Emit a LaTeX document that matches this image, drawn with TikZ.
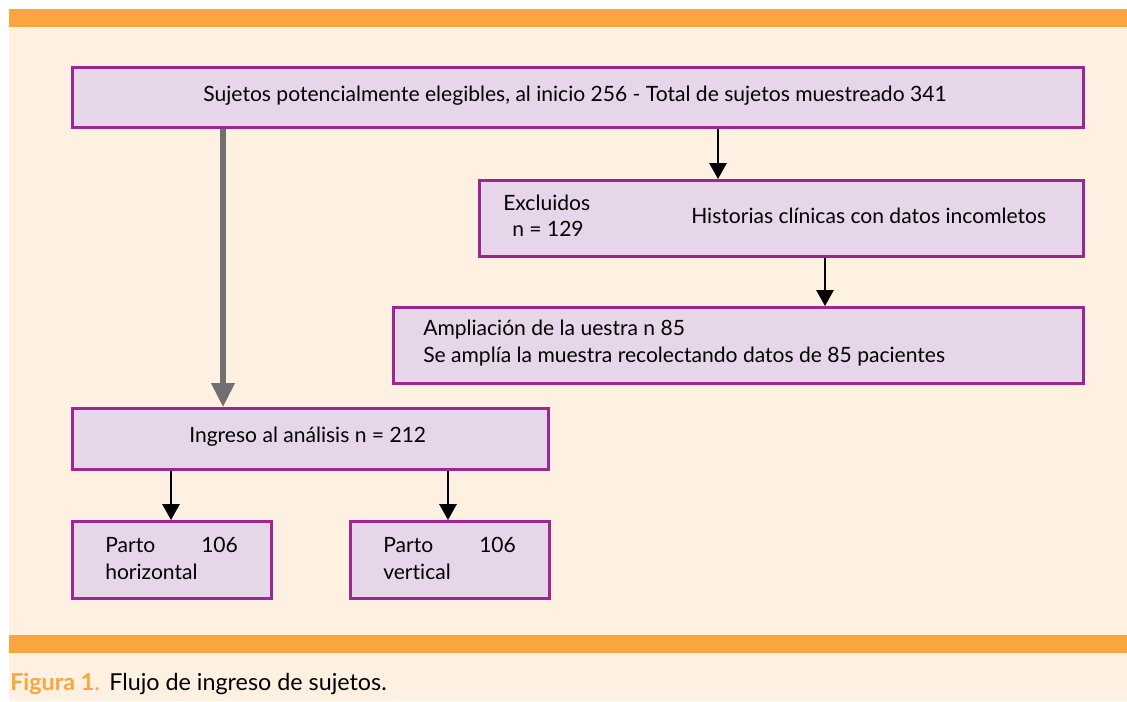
\documentclass[tikz,border=0pt]{standalone}
\usepackage{fontspec}
\setmainfont{Lato}[Ligatures=CommonOff]
\usetikzlibrary{arrows.meta}
\definecolor{bar}{HTML}{F9A63F}
\definecolor{cream}{HTML}{FEF1E1}
\definecolor{boxfill}{HTML}{E7D5EA}
\definecolor{boxline}{HTML}{9C2790}
\definecolor{grayarrow}{HTML}{707070}
\tikzset{
  fbox/.style={draw=boxline, fill=boxfill, line width=2.25pt, anchor=north west, inner sep=0pt},
  txt/.style={inner sep=0pt, font=\fontsize{15.8}{20}\selectfont, text=black},
  txtw/.style={txt, anchor=west},
  blackarrow/.style={line width=1.5pt, -{Triangle[width=13pt,length=12pt]}},
  grayarr/.style={draw=grayarrow, line width=3.8pt, -{Triangle[width=17pt,length=18pt]}},
}
\begin{document}
\begin{tikzpicture}[x=0.75pt,y=-0.75pt]
\useasboundingbox (0,0) rectangle (1127,701);
\fill[white] (0,0) rectangle (1127,701);
\fill[cream] (9,9) rectangle (1127,701);
\fill[bar] (9,9) rectangle (1127,27);
\fill[bar] (9,635) rectangle (1127,653);

\node[fbox, minimum width=758.25pt, minimum height=45pt] (b1) at (71,66) {};
\node[fbox, minimum width=453pt, minimum height=57pt] (b2) at (478,179) {};
\node[fbox, minimum width=517.5pt, minimum height=57pt] (b3) at (392,306) {};
\node[fbox, minimum width=357pt, minimum height=45.75pt] (b4) at (71,407) {};
\node[fbox, minimum width=149.25pt, minimum height=57.75pt] (b5) at (71,520) {};
\node[fbox, minimum width=149.25pt, minimum height=57.75pt] (b6) at (349,520) {};

\node[txt] (t1) at (575,96) {Sujetos potencialmente elegibles, al inicio 256 - Total de sujetos muestreado 341};
\node[txtw] (t2a) at (503,203) {Excluidos};
\node[txtw] (t2b) at (512,229) {n = 129};
\node[txtw] (t2c) at (691,216) {Historias clínicas con datos incomletos};
\node[txtw] (t3a) at (423,330) {Ampliación de la uestra n 85};
\node[txtw] (t3b) at (423,357) {Se amplía la muestra recolectando datos de 85 pacientes};
\node[txtw] (t4) at (189,437) {Ingreso al análisis n = 212};
\node[txtw] (t5a) at (105,545) {Parto};
\node[txtw] (t5b) at (201,545) {106};
\node[txtw] (t5c) at (105,572) {horizontal};
\node[txtw] (t6a) at (383,545) {Parto};
\node[txtw] (t6b) at (479,545) {106};
\node[txtw] (t6c) at (383,572) {vertical};

\node[inner sep=0pt, anchor=west, font=\fontsize{17.5}{20}\selectfont] (cap) at (10,684) {\textcolor{bar}{\textbf{Figura 1}.}\hspace{1pt} Flujo de ingreso de sujetos.};

\draw[grayarr] (b1.south -| 223,0) -- (b4.north -| 223,0);
\draw[blackarrow] (b1.south -| 718,0) -- (b2.north -| 718,0);
\draw[blackarrow] (b2.south -| 825,0) -- (b3.north -| 825,0);
\draw[blackarrow] (b4.south -| 171,0) -- (b5.north -| 171,0);
\draw[blackarrow] (b4.south -| 448,0) -- (b6.north -| 448,0);
\end{tikzpicture}
\end{document}
